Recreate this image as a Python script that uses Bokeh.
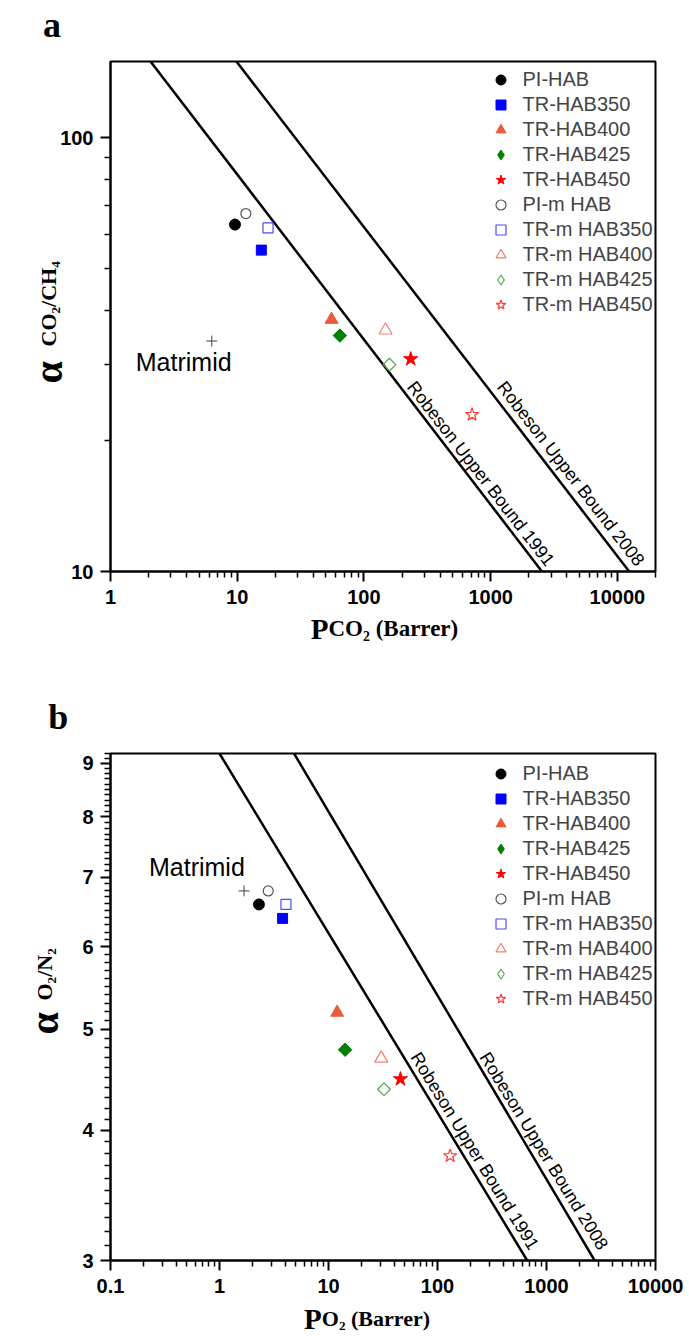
import math
from bokeh.plotting import figure
from bokeh.models import (ColumnDataSource, FixedTicker, Label, Legend, LegendItem,
                          Range1d, CustomJSTickFormatter)
from bokeh.layouts import column
from bokeh.embed import file_html
from bokeh.resources import INLINE

# ---------------- data ----------------
series_names = ["PI-HAB", "TR-HAB350", "TR-HAB400", "TR-HAB425", "TR-HAB450",
                "PI-m HAB", "TR-m HAB350", "TR-m HAB400", "TR-m HAB425", "TR-m HAB450"]

# panel a : CO2 / CH4
co2_permeability = [9.6, 15.5, 55.5, 64.6, 234, 11.7, 17.5, 148, 159, 714]
co2_ch4_selectivity = [63.1, 55.1, 38.1, 35.0, 30.9, 66.9, 62.0, 36.0, 30.0, 23.0]
matrimid_co2 = [6.3]
matrimid_co2_ch4 = [34.0]
robeson1991_co2_p = [2.07, 2540]
robeson1991_co2_sel = [150, 10]
robeson2008_co2_p = [9.86, 12400]
robeson2008_co2_sel = [150, 10]

# panel b : O2 / N2
o2_permeability = [2.30, 3.79, 12.0, 14.2, 45.7, 2.80, 4.07, 30.5, 32.3, 130.6]
o2_n2_selectivity = [6.59, 6.39, 5.19, 4.78, 4.48, 6.79, 6.59, 4.69, 4.38, 3.78]
matrimid_o2 = [1.68]
matrimid_o2_n2 = [6.79]
robeson1991_o2_p = [1.0, 665]
robeson1991_o2_sel = [9.2, 3]
robeson2008_o2_p = [4.83, 2764]
robeson2008_o2_sel = [9.2, 3]

xtick_a = [1, 10, 100, 1000, 10000]
ytick_a = [10, 100]
xtick_b = [0.1, 1, 10, 100, 1000, 10000]
ytick_b = [3, 4, 5, 6, 7, 8, 9]

# ---------------- styles ----------------
markers = ["circle", "square", "triangle", "square", "star"] * 2
legend_markers = ["circle", "square", "triangle", "diamond", "star"] * 2
angles = [0, 0, 0, math.pi / 4, 0] * 2
sizes = [11, 10, 13, 9.5, 15, 10, 10, 13, 9, 14]
fills = ["black", "#0000FF", "#EA5A3D", "#007F00", "#FF0000", None, None, None, None, None]
lines = ["black", "#0000FF", "#EA5A3D", "#007F00", "#FF0000",
         "#555555", "#4B4BFF", "#F08070", "#4FAA4F", "#FF3B3B"]
lwidths = [1, 1, 1, 1, 1, 1.2, 1.2, 1.2, 1.2, 1.2]

SANS = "Liberation Sans"
SERIF = "Liberation Serif"
SHIFT = 9  # compensation of the rendered baseline offset of side labels


def minor_list(lo_exp, hi_exp, vmax):
    out = []
    for e in range(lo_exp, hi_exp + 1):
        for k in range(2, 10):
            v = k * 10 ** e
            if v <= vmax * 1.0001:
                out.append(v)
    return out


def make_panel(height, bl, br, bt, bb, xr, yr, xt, xminor, yt, yminor):
    p = figure(width=689, height=height, x_axis_type="log", y_axis_type="log",
               x_range=Range1d(*xr), y_range=Range1d(*yr),
               output_backend="svg", toolbar_location=None,
               min_border_left=bl, min_border_right=br,
               min_border_top=bt, min_border_bottom=bb)
    p.xgrid.visible = False
    p.ygrid.visible = False
    p.outline_line_color = "black"
    p.outline_line_width = 2
    p.outline_line_alpha = 1
    p.background_fill_color = "white"
    p.border_fill_color = "white"
    p.xaxis.ticker = FixedTicker(ticks=xt, minor_ticks=xminor)
    p.yaxis.ticker = FixedTicker(ticks=yt, minor_ticks=yminor)
    for ax in (p.xaxis[0], p.yaxis[0]):
        ax.axis_line_width = 2
        ax.axis_line_color = "black"
        ax.major_tick_line_width = 2
        ax.minor_tick_line_width = 1.5
        ax.major_tick_out = 10
        ax.major_tick_in = 0
        ax.minor_tick_out = 6
        ax.minor_tick_in = 0
        ax.major_label_text_font = SANS
        ax.major_label_text_font_style = "bold"
        ax.major_label_text_font_size = "20px"
        ax.major_label_text_color = "black"
        ax.formatter = CustomJSTickFormatter(code="return String(tick);")
    p.xaxis[0].major_label_standoff = 8
    p.yaxis[0].major_label_standoff = 7
    return p


def canvas_to_data(cx, cy, geo):
    fl, ft, fw, fh, xr, yr = geo
    lx0, lx1 = math.log10(xr[0]), math.log10(xr[1])
    ly0, ly1 = math.log10(yr[0]), math.log10(yr[1])
    return (10 ** (lx0 + (cx - fl) / fw * (lx1 - lx0)),
            10 ** (ly1 - (cy - ft) / fh * (ly1 - ly0)))


def side_lbl(p, geo, side, cx, cy, text, size, rotated=False):
    if rotated:
        cx = cx - SHIFT
        angle = math.pi / 2
    else:
        cy = cy - SHIFT
        angle = 0.0
    x, y = canvas_to_data(cx, cy, geo)
    p.add_layout(Label(x=x, y=y, x_units="data", y_units="data", text=text,
                       text_font=SERIF, text_font_size=f"{size}px", text_font_style="bold",
                       angle=angle, text_align="left", text_baseline="alphabetic",
                       text_color="black"), side)


def data_lbl(p, x, y, text, size, angle=0.0):
    p.add_layout(Label(x=x, y=y, x_units="data", y_units="data", text=text,
                       text_font=SANS, text_font_size=f"{size}px", text_font_style="normal",
                       angle=angle, text_align="center", text_baseline="middle",
                       text_color="black"))


def screen_angle(xs, ys, geo):
    fl, ft, fw, fh, xr, yr = geo
    dx = (math.log10(xs[1]) - math.log10(xs[0])) / (math.log10(xr[1]) - math.log10(xr[0])) * fw
    dy = (math.log10(ys[1]) - math.log10(ys[0])) / (math.log10(yr[1]) - math.log10(yr[0])) * fh
    return math.atan2(dy, dx)


def add_series(p, xs, ys, leg_loc):
    items = []
    for i, name in enumerate(series_names):
        src = ColumnDataSource(dict(x=[xs[i]], y=[ys[i]]))
        r = p.scatter(x="x", y="y", source=src, marker=markers[i], size=sizes[i],
                      angle=angles[i], fill_color=fills[i], line_color=lines[i],
                      line_width=lwidths[i])
        if legend_markers[i] != markers[i]:
            # legend glyphs are never rotated: a hidden diamond stand-in draws the key
            r = p.scatter(x="x", y="y", source=src, marker=legend_markers[i],
                          size=sizes[i], fill_color=fills[i], line_color=lines[i],
                          line_width=lwidths[i], visible=False)
        items.append(LegendItem(label=name, renderers=[r]))
    leg = Legend(items=items, location=leg_loc, orientation="vertical",
                 glyph_width=25, glyph_height=25, label_height=25, spacing=0,
                 padding=0, margin=0, label_standoff=10,
                 label_text_font=SANS, label_text_font_size="20px",
                 border_line_alpha=0, background_fill_alpha=0)
    p.add_layout(leg)


# ---------------- panel a ----------------
H_A = 674
xr_a, yr_a = (1, 20000), (10, 150)
geo_a = (110, 61, 550, 510, xr_a, yr_a)
pa = make_panel(H_A, 110, 29, 61, H_A - 571, xr_a, yr_a, xtick_a, minor_list(0, 4, 20000),
                ytick_a, [20, 30, 40, 50, 60, 70, 80, 90])
pa.line(robeson1991_co2_p, robeson1991_co2_sel, line_color="black", line_width=2.5)
pa.line(robeson2008_co2_p, robeson2008_co2_sel, line_color="black", line_width=2.5)
pa.scatter(matrimid_co2, matrimid_co2_ch4, marker="cross", size=11, line_color="#444444",
           line_width=1)
add_series(pa, co2_permeability, co2_ch4_selectivity, (377.5, 254.5))
ang_a = screen_angle(robeson1991_co2_p, robeson1991_co2_sel, geo_a)
data_lbl(pa, 836, 16.8, "Robeson Upper Bound 1991", 18, angle=ang_a)
data_lbl(pa, 4295, 16.8, "Robeson Upper Bound 2008", 18, angle=ang_a)
data_lbl(pa, 3.78, 30.4, "Matrimid", 25)
side_lbl(pa, geo_a, "above", 42, 33, "a", 36)
side_lbl(pa, geo_a, "below", 312, 637, "P", 29)
side_lbl(pa, geo_a, "below", 330, 637, "CO\u2082 (Barrer)", 23)
side_lbl(pa, geo_a, "left", 56, 383, "\u03b1", 40, rotated=True)
side_lbl(pa, geo_a, "right", 56, 346, "CO\u2082/CH\u2084", 22, rotated=True)

# ---------------- panel b ----------------
H_B = 1336 - H_A
top_b = 753 - H_A
xr_b, yr_b = (0.1, 10000), (3, 9.2)
geo_b = (103, top_b, 552, 507, xr_b, yr_b)
yminor_b = [round(3 + 0.1 * k, 1) for k in range(1, 63) if (k % 10) != 0]
pb = make_panel(H_B, 103, 34, top_b, 76, xr_b, yr_b, xtick_b, minor_list(-1, 3, 10000),
                ytick_b, yminor_b)
pb.line(robeson1991_o2_p, robeson1991_o2_sel, line_color="black", line_width=2.5)
pb.line(robeson2008_o2_p, robeson2008_o2_sel, line_color="black", line_width=2.5)
pb.scatter(matrimid_o2, matrimid_o2_n2, marker="cross", size=11, line_color="#444444",
           line_width=1)
add_series(pb, o2_permeability, o2_n2_selectivity, (377.5, 249.5))
ang_b = screen_angle(robeson1991_o2_p, robeson1991_o2_sel, geo_b)
data_lbl(pb, 220, 3.82, "Robeson Upper Bound 1991", 18, angle=ang_b)
data_lbl(pb, 946, 3.82, "Robeson Upper Bound 2008", 18, angle=ang_b)
data_lbl(pb, 0.62, 7.16, "Matrimid", 25)
side_lbl(pb, geo_b, "above", 40, 725 - H_A, "b", 36)
side_lbl(pb, geo_b, "above", 299, 1327 - H_A, "P", 29)
side_lbl(pb, geo_b, "below", 317, 1327 - H_A, "O\u2082 (Barrer)", 22)
side_lbl(pb, geo_b, "left", 45, 1034 - H_A, "\u03b1", 40, rotated=True)
side_lbl(pb, geo_b, "left", 45, 1000 - H_A, "O\u2082/N\u2082", 22, rotated=True)

layout = column(pa, pb, spacing=0)
open("out.html", "w").write(file_html(layout, INLINE))
